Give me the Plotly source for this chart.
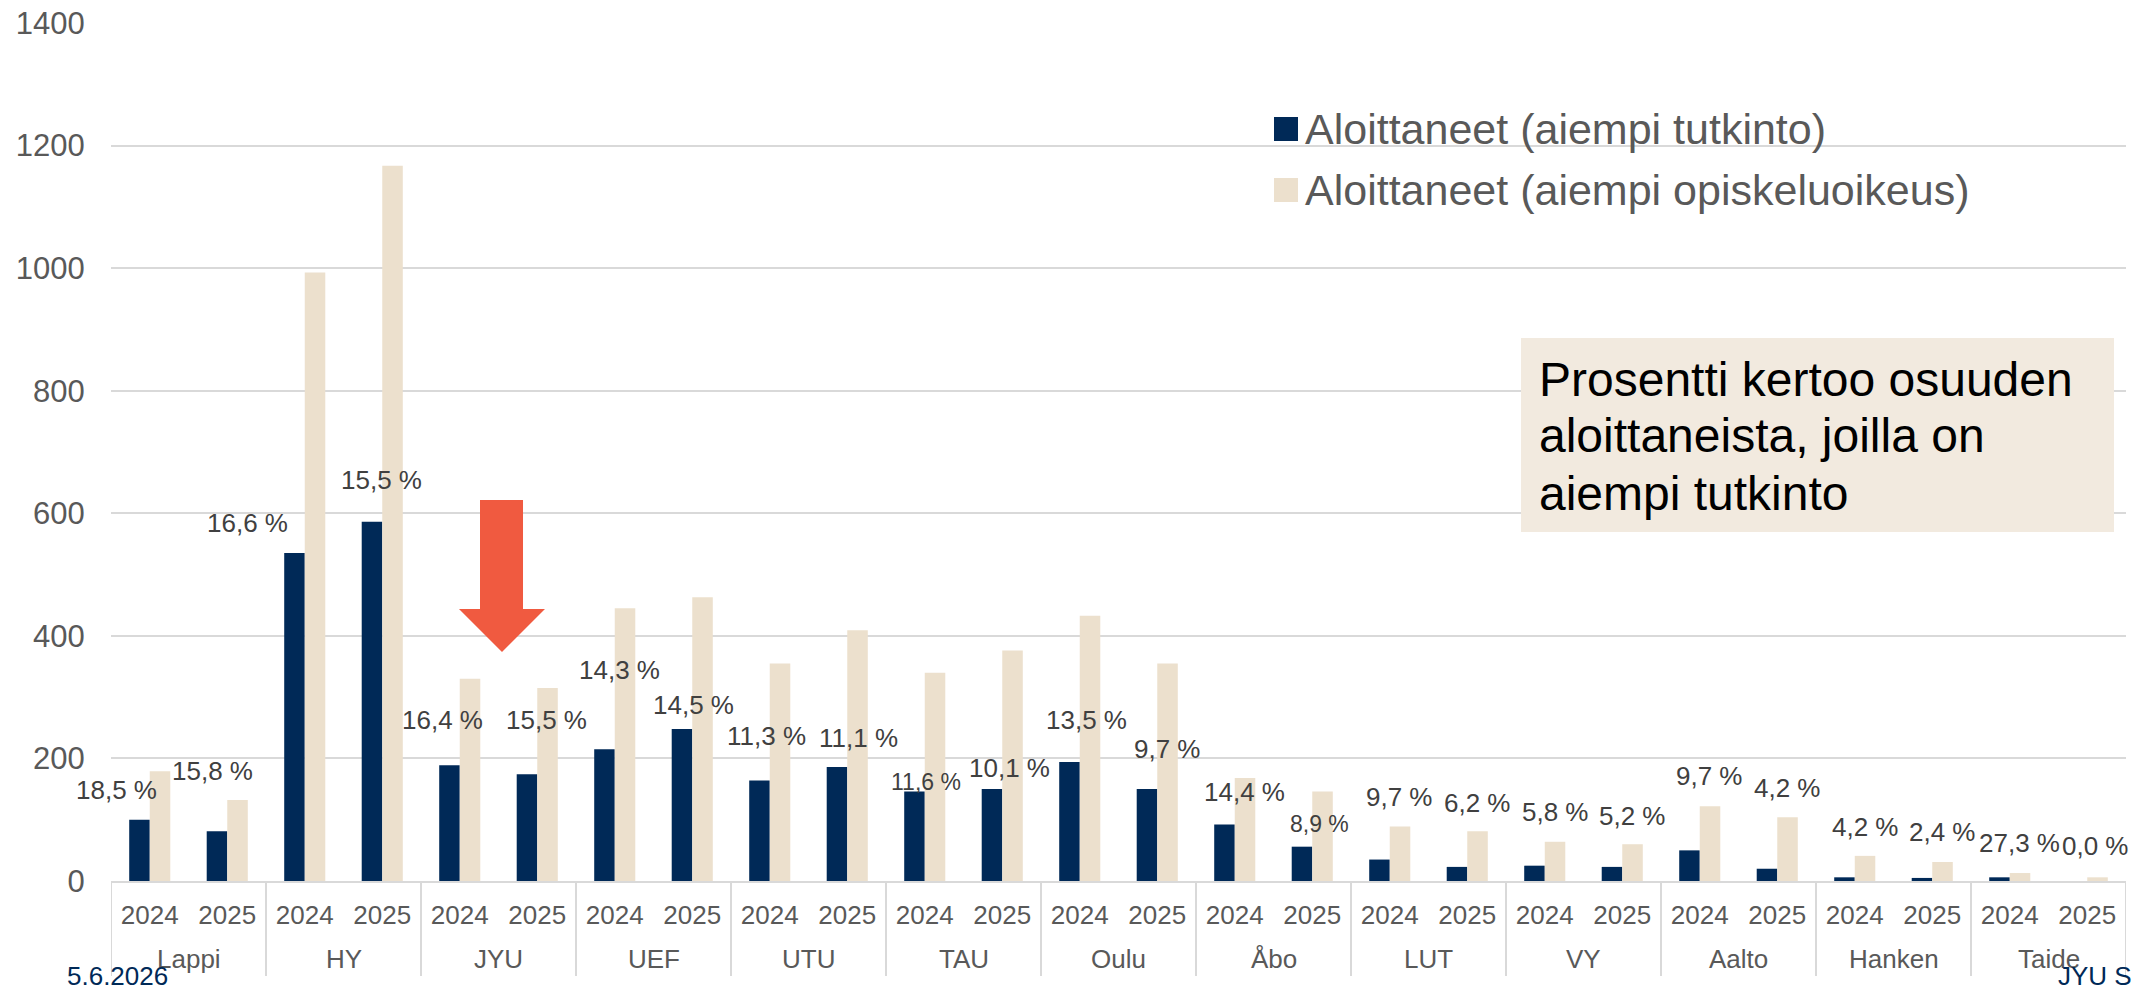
import plotly.graph_objects as go

# ---------------- data ----------------
groups = ["Lappi", "HY", "JYU", "UEF", "UTU", "TAU", "Oulu", "Åbo", "LUT", "VY", "Aalto", "Hanken", "Taide"]
years = ["2024", "2025"]

tutkinto = [100, 81, 535, 586, 189, 174, 215, 248, 164, 186, 146, 150, 194, 150,
            92, 56, 35, 23, 25, 23, 50, 20, 6, 5, 6, 0]
opiskeluoikeus = [179, 132, 993, 1167, 330, 315, 445, 463, 355, 409, 340, 376, 433, 355,
                  168, 146, 89, 81, 64, 60, 122, 104, 41, 31, 13, 6]
osuus = [18.5, 15.8, 16.6, 15.5, 16.4, 15.5, 14.3, 14.5, 11.3, 11.1, 11.6, 10.1, 13.5, 9.7,
         14.4, 8.9, 9.7, 6.2, 5.8, 5.2, 9.7, 4.2, 4.2, 2.4, 27.3, 0.0]

series_names = ["Aloittaneet (aiempi tutkinto)", "Aloittaneet (aiempi opiskeluoikeus)"]
note_lines = ["Prosentti kertoo osuuden", "aloittaneista, joilla on", "aiempi tutkinto"]
footer_left = "5.6.2026"
footer_right = "JYU S"

# ---------------- layout / style ----------------
W, H = 2133, 992
ML, MR, MT, MB = 111, 7, 23, 111
PW, PH = W - ML - MR, H - MT - MB

DARK = "#002957"
BEIGE = "#ECE0CD"
BOXBG = "#F2EADF"
ARROW = "#F05A40"
AXTXT = "#595959"
LBLTXT = "#404040"
GRID = "#D9D9D9"
FONT = "Liberation Sans, Arial, sans-serif"

# pixel offsets of percent labels relative to slot centre / dark bar top
label_dx = [-33, -15, -57, -1, -17, 9, 5, 1, -3, 11, 1, 7, 7, 10, 10, 7, 10, 10, 11, 10, 10, 10, 11, 10, 10, 8]
label_dy = [-30, -60, -30, -42, -45, -54, -79, -24, -44, -29, -10, -21, -42, -40, -33, -23, -63, -64, -54, -51,
            -74, -81, -50, -46, -34, -35]
label_size = [26] * 26
label_size[10] = 23
label_size[15] = 23


def px(xpix):
    return (xpix - ML) / PW


def py(ypix):
    return (H - MB - ypix) / PH


n = len(groups) * len(years)
slots = list(range(n))
slot_text = [y for _ in groups for y in years]

fig = go.Figure()
fig.add_trace(go.Bar(x=slots, y=tutkinto, name=series_names[0], marker_color=DARK,
                     marker_line_width=0, showlegend=False))
fig.add_trace(go.Bar(x=slots, y=opiskeluoikeus, name=series_names[1], marker_color=BEIGE,
                     marker_line_width=0, showlegend=False))

annotations = []
shapes = []
for i, (v, p) in enumerate(zip(tutkinto, osuus)):
    txt = f"{p:.1f}".replace(".", ",") + " %"
    annotations.append(dict(x=i, y=v, xref="x", yref="y", text=txt, showarrow=False,
                            xanchor="center", yanchor="middle",
                            xshift=label_dx[i], yshift=-label_dy[i],
                            font=dict(size=label_size[i], color=LBLTXT, family=FONT)))

# group labels and dividers of the two-level category axis
ny = len(years)
for g, name in enumerate(groups):
    annotations.append(dict(x=g * ny + (ny - 1) / 2, y=py(959), xref="x", yref="paper", text=name,
                            showarrow=False, xanchor="center", yanchor="middle", borderpad=0,
                            font=dict(size=26, color=AXTXT, family=FONT)))
for b in range(len(groups) + 1):
    shapes.append(dict(type="line", xref="x", yref="paper", x0=b * ny - 0.5, x1=b * ny - 0.5,
                       y0=0, y1=py(976), line=dict(color=GRID, width=2)))

# custom legend
legend_colors = [DARK, BEIGE]
legend_rows = [129, 190]
for name, col, yc in zip(series_names, legend_colors, legend_rows):
    shapes.append(dict(type="rect", xref="paper", yref="paper", x0=px(1274), x1=px(1298),
                       y0=py(yc - 12), y1=py(yc + 12), fillcolor=col, line_width=0))
    annotations.append(dict(x=px(1303), y=py(yc), xref="paper", yref="paper", text=name,
                            showarrow=False, xanchor="left", yanchor="middle",
                            font=dict(size=43, color=AXTXT, family=FONT)))

# note box
shapes.append(dict(type="rect", xref="paper", yref="paper", x0=px(1521), x1=px(2114),
                   y0=py(532), y1=py(338), fillcolor=BOXBG, line_width=0, layer="above"))
for k, line in enumerate(note_lines):
    annotations.append(dict(x=px(1537), y=py(379 + 57 * k), xref="paper", yref="paper", text=line,
                            showarrow=False, xanchor="left", yanchor="middle",
                            font=dict(size=48, color="#000000", family=FONT)))

# arrow pointing at JYU
arrow_pts = [(480, 500), (523, 500), (523, 609), (545, 609), (502, 652), (459, 609), (480, 609)]
path = "M " + " L ".join(f"{px(a):.5f},{py(b):.5f}" for a, b in arrow_pts) + " Z"
shapes.append(dict(type="path", xref="paper", yref="paper", path=path, fillcolor=ARROW,
                   line_width=0, layer="above"))

# footer
annotations.append(dict(x=px(66), y=py(992), xref="paper", yref="paper", text=footer_left,
                        showarrow=False, xanchor="left", yanchor="bottom", borderpad=0,
                        font=dict(size=26, color=DARK, family=FONT)))
annotations.append(dict(x=px(2133), y=py(992), xref="paper", yref="paper", text=footer_right,
                        showarrow=False, xanchor="right", yanchor="bottom", borderpad=0,
                        font=dict(size=26, color=DARK, family=FONT)))

fig.update_layout(
    width=W, height=H,
    margin=dict(l=ML, r=MR, t=MT, b=MB, pad=0),
    paper_bgcolor="white", plot_bgcolor="white",
    barmode="group", bargap=0.47, bargroupgap=0,
    font=dict(family=FONT, color=AXTXT),
    annotations=annotations, shapes=shapes,
    showlegend=False,
)
fig.update_xaxes(range=[-0.5, n - 0.5], tickvals=slots, ticktext=slot_text, automargin=False,
                 showline=True, linecolor=GRID, linewidth=2, showgrid=False, zeroline=False,
                 ticks="outside", ticklen=10, tickcolor="rgba(0,0,0,0)",
                 tickfont=dict(size=26, color=AXTXT, family=FONT))
fig.update_yaxes(range=[0, 1400], dtick=200, showgrid=True, gridcolor=GRID, gridwidth=2,
                 zeroline=False, showline=False, ticks="outside", ticklen=19, automargin=False,
                 tickcolor="rgba(0,0,0,0)", tickfont=dict(size=31, color=AXTXT, family=FONT))

fig.write_html("out.html", config={"displayModeBar": False},
               post_script="document.body.style.margin='0px';document.body.style.overflow='hidden';")
